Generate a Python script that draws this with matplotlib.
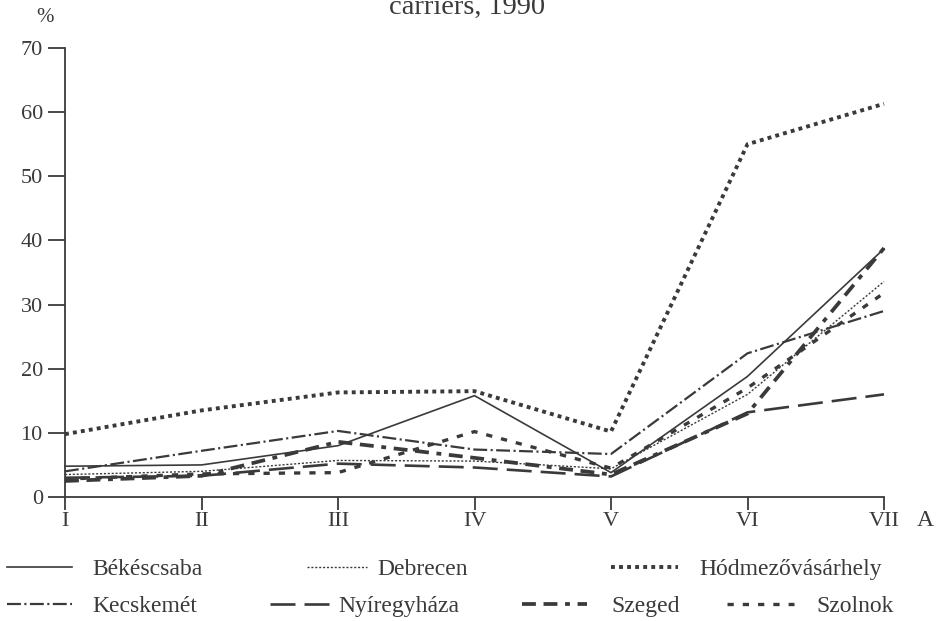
import matplotlib
matplotlib.use("Agg")
from matplotlib import pyplot as plt

plt.rcParams['font.family'] = ['Liberation Serif', 'DejaVu Serif']
plt.rcParams['lines.scale_dashes'] = False

# stages along the horizontal axis
stages = ['I', 'II', 'III', 'IV', 'V', 'VI', 'VII']

# share of the group, %
bekescsaba       = [4.8, 5.0, 8.0, 15.8, 3.8, 18.8, 38.7]
debrecen         = [3.5, 4.0, 5.7, 5.6, 4.4, 16.0, 33.6]
hodmezovasarhely = [9.8, 13.5, 16.3, 16.5, 10.2, 55.0, 61.3]
kecskemet        = [4.0, 7.2, 10.3, 7.4, 6.7, 22.4, 29.0]
nyiregyhaza      = [3.0, 3.3, 5.2, 4.6, 3.2, 13.2, 16.0]
szeged           = [2.5, 3.3, 8.6, 6.1, 3.5, 13.0, 38.8]
szolnok          = [2.8, 3.6, 3.8, 10.2, 4.5, 17.0, 31.8]

names  = ['Békéscsaba', 'Debrecen', 'Hódmezővásárhely', 'Kecskemét',
          'Nyíregyháza', 'Szeged', 'Szolnok']
series = [bekescsaba, debrecen, hodmezovasarhely, kecskemet,
          nyiregyhaza, szeged, szolnok]

ink = '#3a3a3a'
styles = [
  dict( lw = 1.2, ls = '-' ),
  dict( lw = 1.0, ls = (0, (1.5, 1.3)) ),
  dict( lw = 2.8, ls = (0, (2.8, 3.0)) ),
  dict( lw = 1.6, ls = (0, (10, 2.5, 1.5, 2.5)) ),
  dict( lw = 1.9, ls = (0, (18, 6.5)) ),
  dict( lw = 2.7, ls = (0, (10, 5.5, 10, 5.5, 3.5, 5.5)) ),
  dict( lw = 2.4, ls = (0, (4.5, 6.5)) ),
]

# legend slots: (sample left, sample right, text left, centre y) in px
W, H = 938, 621
slots = [(7, 72, 92, 569), (307, 367, 377, 569), (611, 678, 699, 569),
         (7, 72, 92, 606), (270, 330, 338, 606), (522, 587, 611, 606),
         (727, 794, 816, 606)]
leg_size = 17

fig = plt.figure( figsize = (W/100, H/100), dpi = 100 )
ax  = fig.add_axes( [65/W, 1 - 497/H, (884 - 65)/W, (497 - 48)/H] )

x = list( range( len( stages ) ) )
handles = []
for name, vals, st in zip( names, series, styles ):
  line, = ax.plot( x, vals, color = ink, solid_joinstyle = 'miter',
                   dash_capstyle = 'butt', clip_on = False, **st )
  handles.append( line )

ax.set_xlim( 0, 6 )
ax.set_ylim( 0, 70 )
ax.set_xticks( x )
ax.set_xticklabels( stages )
ax.set_yticks( range( 0, 71, 10 ) )
ax.tick_params( axis = 'y', direction = 'out', length = 12, width = 1.3,
                color = ink, labelsize = 16, labelcolor = ink, pad = 4 )
ax.tick_params( axis = 'x', direction = 'out', length = 9, width = 1.3,
                color = ink, labelsize = 16, labelcolor = ink, pad = 2 )
for side in ['top', 'right']:
  ax.spines[side].set_visible( False )
for side in ['left', 'bottom']:
  ax.spines[side].set_color( ink )
  ax.spines[side].set_linewidth( 1.3 )

fig.text( 925/W, 1 - 520/H, 'A', fontsize = 17, color = ink,
          ha = 'center', va = 'center' )
fig.text( 45/W, 1 - 18/H, '%', fontsize = 15, color = ink,
          ha = 'center', va = 'center' )
fig.text( 467/W, 1 - 14/H, 'carriers, 1990', fontsize = 20.5, color = ink,
          ha = 'center', va = 'baseline' )

em = leg_size * 100 / 72.0   # font size in px
for h, name, (x0, x1, tx, py) in zip( handles, names, slots ):
  leg = fig.legend( [h], [name], loc = 'center left',
                    bbox_to_anchor = (x0/W, 1 - py/H), frameon = False,
                    fontsize = leg_size, handlelength = (x1 - x0)/em,
                    handletextpad = (tx - x1)/em,
                    borderpad = 0, borderaxespad = 0 )
  for t in leg.get_texts():
    t.set_color( ink )

fig.savefig( 'out.png', dpi = 100 )
